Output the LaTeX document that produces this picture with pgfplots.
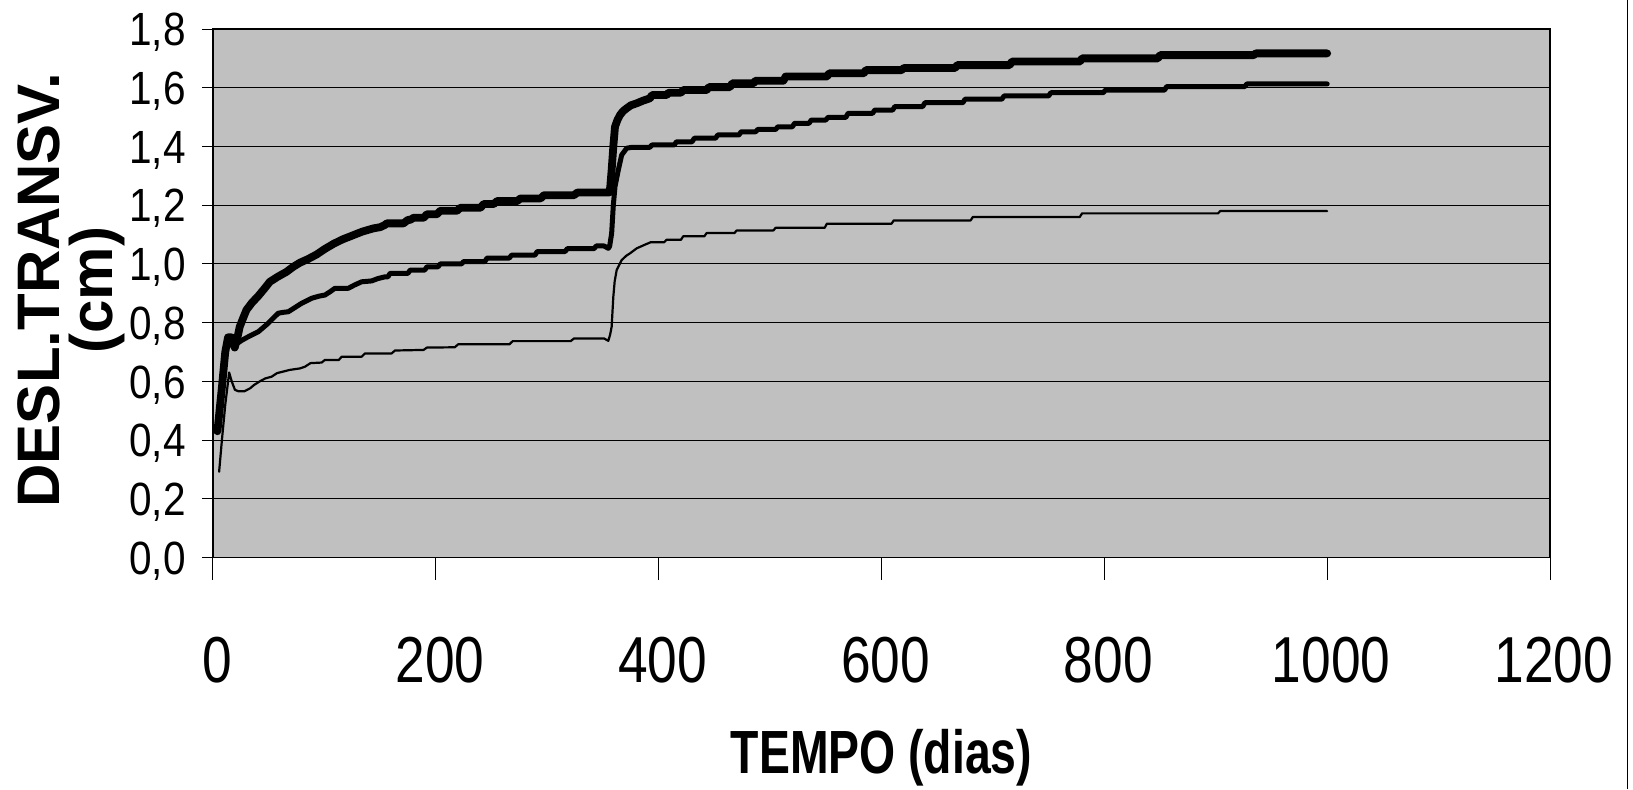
\documentclass[border=0pt]{standalone}
\usepackage{fontspec}
\setmainfont{Liberation Sans}
\newfontfamily\tickfontx[FakeStretch=0.82]{Liberation Sans}
\newfontfamily\tickfonty[FakeStretch=0.87]{Liberation Sans}
\newfontfamily\labfontx[FakeStretch=0.76]{Liberation Sans}
\usepackage{pgfplots}
\pgfplotsset{compat=1.18}
\definecolor{plotgray}{HTML}{C0C0C0}
\begin{document}
\begin{tikzpicture}
\useasboundingbox (0,0) rectangle (816.5pt,394.5pt);
\begin{axis}[
  at={(106.5pt,115.75pt)}, anchor=south west,
  scale only axis, width=668.5pt, height=264.25pt,
  xmin=0, xmax=1200, ymin=0, ymax=1.8,
  clip=false,
  axis background/.style={fill=plotgray},
  axis line style={black, line width=0.6pt},
  ymajorgrids, major grid style={black, line width=0.5pt},
  xtick={0,200,400,600,800,1000,1200},
  xticklabels={0,200,400,600,800,1000,1200},
  ytick={0,0.2,0.4,0.6,0.8,1.0,1.2,1.4,1.6,1.8},
  yticklabels={{0,0},{0,2},{0,4},{0,6},{0,8},{1,0},{1,2},{1,4},{1,6},{1,8}},
  major tick length=0pt, tick style={draw=none},
  xticklabel style={font=\tickfontx\fontsize{32.5}{36}\selectfont, anchor=north, inner sep=0pt, yshift=-39.6pt, xshift=2pt},
  yticklabel style={font=\tickfonty\fontsize{23.3}{26}\selectfont, anchor=base east, inner sep=0pt, xshift=-13.5pt, yshift=-8.35pt},
  xlabel={TEMPO (dias)}, ylabel={DESL.TRANSV.\\(cm)},
  every axis x label/.style={at={(axis description cs:0.5,-0.4078)}, anchor=base, inner sep=0pt, font=\labfontx\bfseries\fontsize{30.5}{34}\selectfont},
  every axis y label/.style={at={(axis description cs:-0.106,0.506)}, rotate=90, anchor=center, inner sep=0pt, align=center, font=\bfseries\fontsize{30}{26.5}\selectfont},
]
% thin series
\addplot[black, line width=1.1pt, line join=round, line cap=round] coordinates {
(5.5,0.292)(8,0.40)(11,0.52)(14.5,0.63)(16.8,0.60)(19.7,0.571)(23,0.566)(28,0.566)(33.2,0.576)(37,0.588)(42,0.600)(47,0.61)(52.7,0.616)(57.5,0.628)(69,0.639)(78,0.644)(82.6,0.650)(87.5,0.662)(97.5,0.664)(100.5,0.673)(113,0.673)(115.5,0.684)(133.4,0.684)(136.4,0.695)(160.3,0.695)(163.3,0.705)(189,0.707)(192,0.715)(217,0.716)(220,0.726)(266,0.726)(269,0.737)(321,0.737)(324,0.746)(351,0.746)(354.8,0.738)(356.5,0.76)(357.8,0.786)(359.3,0.888)(360.5,0.94)(362.3,0.979)(366.8,1.013)(371,1.028)(374.3,1.036)(380.3,1.053)(388,1.066)(393,1.074)(405,1.074)(407,1.082)(420,1.082)(422,1.094)(441,1.094)(443,1.105)(468,1.105)(470,1.114)(503,1.114)(505,1.123)(549,1.123)(551,1.137)(609,1.137)(611,1.148)(680,1.148)(682,1.160)(778,1.160)(780,1.172)(902,1.172)(904,1.180)(1000,1.180)
};
% middle series
\addplot[black, line width=2.5pt, line join=round, line cap=round] coordinates {
(4,0.43)(8,0.58)(11,0.70)(13.5,0.75)(16.5,0.75)(19.5,0.72)(22,0.73)(26,0.74)(31.7,0.752)(36,0.76)(40.7,0.769)(45,0.783)(49.6,0.798)(54,0.815)(58.6,0.832)(63,0.835)(67.6,0.837)(73,0.85)(79.6,0.866)(88.6,0.883)(95,0.89)(100.5,0.894)(105,0.905)(109.5,0.917)(121.5,0.917)(127,0.928)(133.4,0.939)(142.4,0.942)(148,0.95)(154.4,0.956)(157,0.956)(159,0.968)(175,0.968)(177,0.979)(190,0.979)(192,0.990)(202,0.990)(204,1.000)(223,1.000)(225,1.008)(244,1.008)(246,1.020)(266,1.020)(268,1.030)(289,1.030)(291,1.042)(316,1.042)(318,1.052)(342,1.052)(344,1.061)(351,1.061)(354.8,1.053)(356,1.06)(357.8,1.104)(359.3,1.20)(360.8,1.263)(363.8,1.32)(366.8,1.371)(371.3,1.394)(376,1.397)(392,1.397)(394,1.405)(414,1.405)(416,1.416)(430,1.416)(432,1.428)(451,1.428)(453,1.439)(472,1.439)(474,1.450)(487,1.450)(489,1.458)(505,1.458)(507,1.467)(520,1.467)(522,1.479)(535,1.479)(537,1.490)(550,1.490)(552,1.499)(568,1.499)(570,1.513)(592,1.513)(594,1.524)(610,1.524)(612,1.536)(637,1.536)(639,1.549)(673,1.549)(675,1.561)(708,1.561)(710,1.572)(750,1.572)(752,1.583)(799,1.583)(801,1.592)(854,1.592)(856,1.604)(926,1.604)(928,1.613)(1000,1.613)
};
% top series
\addplot[black, line width=3.9pt, line join=round, line cap=round] coordinates {
(4,0.43)(8,0.58)(11,0.70)(13.5,0.75)(16.5,0.75)(19.5,0.715)(22,0.75)(24,0.786)(27,0.815)(30,0.843)(35,0.868)(40.5,0.89)(46,0.915)(51,0.939)(58,0.956)(66,0.973)(72,0.99)(78,1.004)(85,1.016)(93,1.032)(100,1.05)(108,1.068)(116,1.083)(126,1.098)(134,1.11)(144,1.121)(150,1.125)(154,1.132)(156,1.138)(171,1.138)(175,1.150)(177,1.150)(180,1.157)(189,1.157)(192,1.169)(201,1.169)(204,1.181)(219,1.181)(222,1.191)(240,1.191)(243,1.204)(252,1.204)(255,1.214)(273,1.214)(276,1.223)(294,1.223)(297,1.234)(324,1.234)(327,1.243)(355.5,1.243)(356.5,1.26)(357.8,1.32)(359.3,1.40)(360.8,1.467)(363,1.49)(365.3,1.507)(368,1.52)(371.3,1.530)(375,1.54)(380.3,1.547)(386,1.556)(392.2,1.564)(394,1.575)(407,1.575)(409,1.583)(420,1.583)(422,1.592)(443,1.592)(445,1.602)(464,1.602)(466,1.615)(485,1.615)(487,1.624)(512,1.624)(514,1.638)(551,1.638)(553,1.649)(584,1.649)(586,1.660)(618,1.660)(620,1.667)(666,1.667)(668,1.677)(715,1.677)(717,1.689)(778,1.689)(780,1.700)(848,1.700)(850,1.711)(934,1.711)(936,1.717)(1000,1.717)
};
% tick marks
\pgfplotsinvokeforeach{0,200,400,600,800,1000,1200}{\draw[black, line width=0.5pt] (axis cs:#1,0) -- ++(0pt,-11.25pt);}
\pgfplotsinvokeforeach{0,0.2,0.4,0.6,0.8,1.0,1.2,1.4,1.6,1.8}{\draw[black, line width=0.5pt] (axis cs:0,#1) -- ++(-5.65pt,0pt);}
\end{axis}
\draw[black, line width=0.6pt] (813.85pt,0pt) -- (813.85pt,394.5pt);
\end{tikzpicture}
\end{document}
